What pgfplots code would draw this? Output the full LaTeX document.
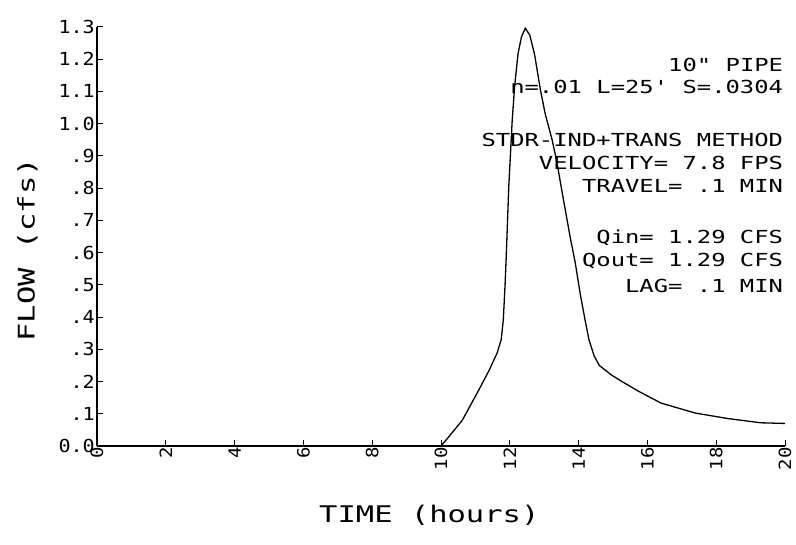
\documentclass[border=0pt]{standalone}
\usepackage{fontspec}
\usepackage{pgfplots}
\pgfplotsset{compat=1.18}
\newfontfamily\plotfont[FakeStretch=1.33]{DejaVu Sans Mono}
\newfontfamily\tickfont[FakeStretch=1.12]{DejaVu Sans Mono}
\begin{document}
\begin{tikzpicture}
\begin{axis}[
  scale only axis,
  width=688bp, height=419bp,
  xmin=0, xmax=20, ymin=0, ymax=1.3,
  axis x line*=bottom, axis y line*=left,
  axis line style={line width=1.6bp},
  tick style={line width=1bp, black},
  tick align=inside,
  major tick length=6bp,
  xtick={0,2,4,6,8,10,12,14,16,18,20},
  ytick={0,0.1,0.2,0.3,0.4,0.5,0.6,0.7,0.8,0.9,1.0,1.1,1.2,1.3},
  yticklabels={0.0,.1,.2,.3,.4,.5,.6,.7,.8,.9,1.0,1.1,1.2,1.3},
  xticklabels={0,2,4,6,8,10,12,14,16,18,20},
  x tick label style={rotate=90, anchor=east, font=\fontsize{17}{17}\tickfont, inner sep=1bp},
  y tick label style={font=\fontsize{18}{18}\tickfont, inner sep=2bp},
  xlabel={TIME (hours)},
  ylabel={FLOW (cfs)},
  label style={font=\fontsize{23}{23}\plotfont},
  xlabel style={at={(axis description cs:0.483,-0.165)}, anchor=center},
  ylabel style={at={(axis description cs:-0.101,0.468)}, anchor=center, rotate=0},
  clip=false,
]
% outflow hydrograph
\addplot[black, line width=1.3bp] coordinates {
  (0,0) (10,0) (10.23,0.029) (10.62,0.08) (11.1,0.174) (11.4,0.235)
  (11.63,0.288) (11.75,0.33) (11.81,0.39) (11.86,0.494) (11.9,0.598) (11.97,0.805)
  (12.07,1.011) (12.14,1.115) (12.24,1.218) (12.34,1.27) (12.45,1.296)
  (12.58,1.275) (12.72,1.215) (12.89,1.105) (13.03,1.03) (13.23,0.95)
  (13.37,0.88) (13.5,0.8) (13.76,0.645) (13.9,0.57) (14.05,0.47)
  (14.19,0.39) (14.3,0.33) (14.45,0.28) (14.6,0.25) (14.96,0.22)
  (15.26,0.2) (15.74,0.17) (16.4,0.133) (17.4,0.102) (18.35,0.085)
  (19.3,0.072) (20,0.07)
};
\begin{scope}[every node/.style={anchor=east, inner sep=0pt, font=\fontsize{18}{18}\plotfont}]
\node at (axis cs:19.95,1.182) {10" PIPE};
\node at (axis cs:19.95,1.114) {n=.01 L=25' S=.0304};
\node at (axis cs:19.95,0.949) {STDR-IND+TRANS METHOD};
\node at (axis cs:19.95,0.877) {VELOCITY= 7.8 FPS};
\node at (axis cs:19.95,0.806) {TRAVEL= .1 MIN};
\node at (axis cs:19.95,0.645) {Qin= 1.29 CFS};
\node at (axis cs:19.95,0.574) {Qout= 1.29 CFS};
\node at (axis cs:19.95,0.498) {LAG= .1 MIN};
\end{scope}
\end{axis}
\pgfresetboundingbox
\path (-97bp,-99bp) rectangle (699bp,446bp);
\end{tikzpicture}
\end{document}
